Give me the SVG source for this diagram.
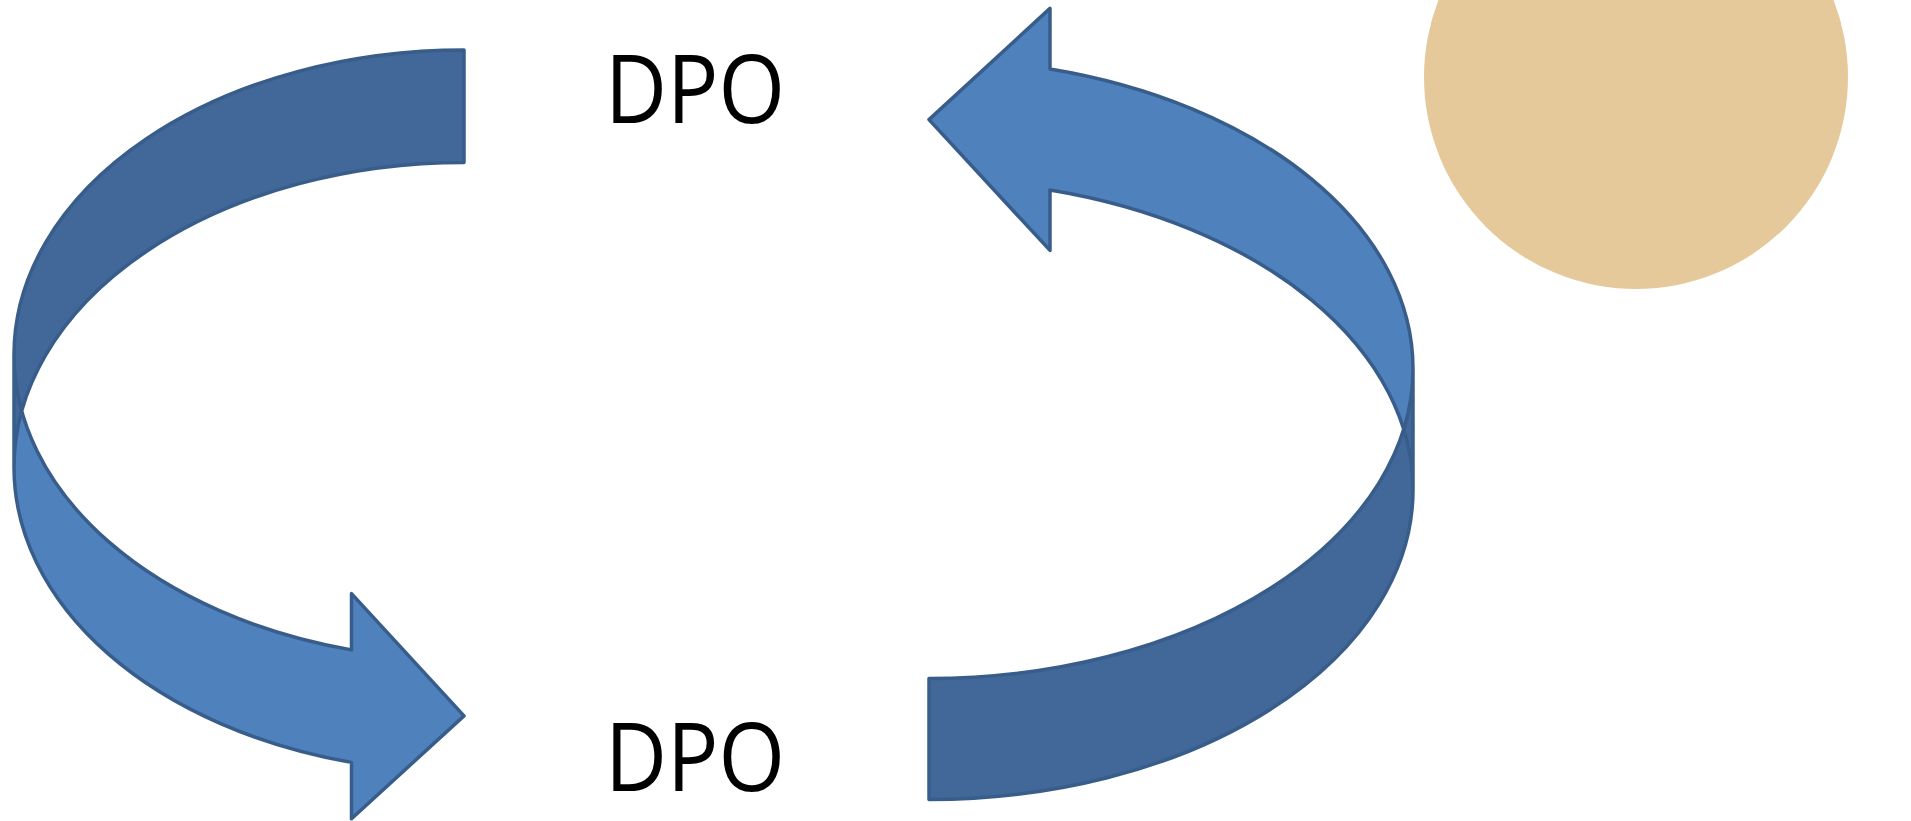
<svg xmlns="http://www.w3.org/2000/svg" width="1911" height="821" viewBox="0 0 1911 821">
  <style>
    .front { fill: #4F81BD; }
    .back { fill: #416899; }
    .edge { fill: none; stroke: #385D8A; stroke-width: 3.5; stroke-linejoin: round; }
    .label { font-family: "Open Sans", "Noto Sans", "Liberation Sans", sans-serif; font-size: 95px; fill: #000000; }
  </style>

  <rect x="0" y="0" width="1911" height="821" fill="#FFFFFF"/>

  <!-- decorative disc, top right -->
  <g id="disc">
    <circle cx="1636" cy="77" r="212" fill="#E5C99A"/>
  </g>

  <!-- curved ribbon arrows forming the loop -->
  <g id="connectors">
    <!-- left ribbon: starts at top, sweeps round the left side, points right at the bottom -->
    <g id="arrow-left">
      <path class="front" d="M 14,354.8 A 450 304.8 0 0 0 351.5,649.9 L 351.5,593.6 L 464,715.9 L 351.5,818.7 L 351.5,762.4 A 450 304.8 0 0 1 14,467.3 Z"/>
      <path class="back" d="M 464,50 A 450 304.8 0 0 0 14,354.8 L 14,467.3 A 450 304.8 0 0 1 464,162.5 Z"/>
      <path class="edge" d="M 14,354.8 A 450 304.8 0 0 0 351.5,649.9 L 351.5,593.6 L 464,715.9 L 351.5,818.7 L 351.5,762.4 A 450 304.8 0 0 1 14,467.3 L 14,354.8 A 450 304.8 0 0 1 464,50 L 464,162.5 A 450 304.8 0 0 0 14,467.3"/>
    </g>
    <!-- right ribbon: starts at bottom, sweeps round the right side, points left at the top -->
    <g id="arrow-right">
      <path class="front" d="M 1413,489.8 A 484 309.7 0 0 0 1050,189.9 L 1050,250.4 L 929,119.6 L 1050,8.4 L 1050,68.9 A 484 309.7 0 0 1 1413,368.8 Z"/>
      <path class="back" d="M 929,799.5 A 484 309.7 0 0 0 1413,489.8 L 1413,368.8 A 484 309.7 0 0 1 929,678.5 Z"/>
      <path class="edge" d="M 1413,489.8 A 484 309.7 0 0 0 1050,189.9 L 1050,250.4 L 929,119.6 L 1050,8.4 L 1050,68.9 A 484 309.7 0 0 1 1413,368.8 L 1413,489.8 A 484 309.7 0 0 1 929,799.5 L 929,678.5 A 484 309.7 0 0 0 1413,368.8"/>
    </g>
  </g>

  <!-- labels -->
  <g id="label-top">
    <text class="label" x="605" y="123" textLength="180" lengthAdjust="spacingAndGlyphs">DPO</text>
  </g>
  <g id="label-bottom">
    <text class="label" x="605" y="791" textLength="180" lengthAdjust="spacingAndGlyphs">DPO</text>
  </g>
</svg>
